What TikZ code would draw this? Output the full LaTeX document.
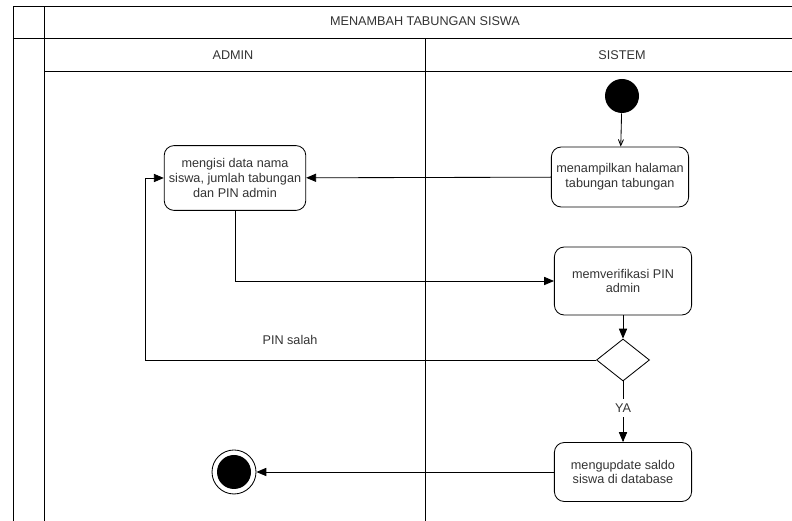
\documentclass[tikz,border=0pt]{standalone}
\usepackage{fontspec}
\setmainfont{Liberation Sans}
\usetikzlibrary{arrows}
\usetikzlibrary{shapes.geometric}

\tikzset{
  aksi/.style={draw, rounded corners=7pt, align=center, text=black!80,
    minimum width=3.43cm, font=\fontsize{9}{10.6}\selectfont},
  judul/.style={text=black!80, font=\fontsize{9}{10.6}\selectfont},
}

\begin{document}
\begin{tikzpicture}[line width=0.6pt]
\useasboundingbox (0,0) rectangle (19.8,13.025);
% swimlane frame
\draw (0.325,0) -- (0.325,12.875) -- (19.8,12.875);
\draw (1.1,0) -- (1.1,12.875);
\draw (0.325,12.075) -- (19.8,12.075);
\draw (1.1,11.25) -- (19.8,11.25);
\draw (10.625,0) -- (10.625,12.075);
\node[judul] (T) at (10.625,12.5) {MENAMBAH TABUNGAN SISWA};
\node[judul] (AD) at (5.825,11.65) {ADMIN};
\node[judul] (SI) at (15.55,11.65) {SISTEM};

% nodes
\node[circle, fill=black, minimum size=0.85cm, inner sep=0] (mulai) at (15.55,10.625) {};
\node[aksi, minimum height=1.5cm] (tampil) at (15.5,8.6) {menampilkan halaman\\tabungan tabungan};
\node[aksi, minimum height=1.62cm, minimum width=3.45cm] (isi) at (5.875,8.575) {mengisi data nama\\siswa, jumlah tabungan\\dan PIN admin};
\node[aksi, minimum height=1.7cm] (verif) at (15.575,6.0) {memverifikasi PIN\\admin};
\node[diamond, draw, minimum width=1.325cm, minimum height=1.05cm, inner sep=0] (cek) at (15.575,4.025) {};
\node[judul] (ya) at (15.575,2.825) {YA};
\node[aksi, minimum height=1.475cm] (update) at (15.575,1.225) {mengupdate saldo\\siswa di database};
\node[circle, draw, minimum size=1.1cm, inner sep=0] (selesai) at (5.85,1.225) {};
\fill (selesai.center) circle (0.425);
\coordinate (K) at (3.625,4.025);

% connectors
\draw[->, >=angle 45] (mulai) -- (tampil);
\draw[->, >=triangle 45] (tampil) -- (isi);
\draw[->, >=triangle 45] (isi.south) |- (verif.west);
\draw[->, >=triangle 45] (verif) -- (cek);
\draw[->, >=triangle 45] (cek) -- (K) |- (isi.west);
\node[judul] (salah) at (7.25,4.525) {PIN salah};
\draw (cek.south) -- (ya);
\draw[->, >=triangle 45] (ya) -- (update);
\draw[->, >=triangle 45] (update) -- (selesai);



\end{tikzpicture}
\end{document}
